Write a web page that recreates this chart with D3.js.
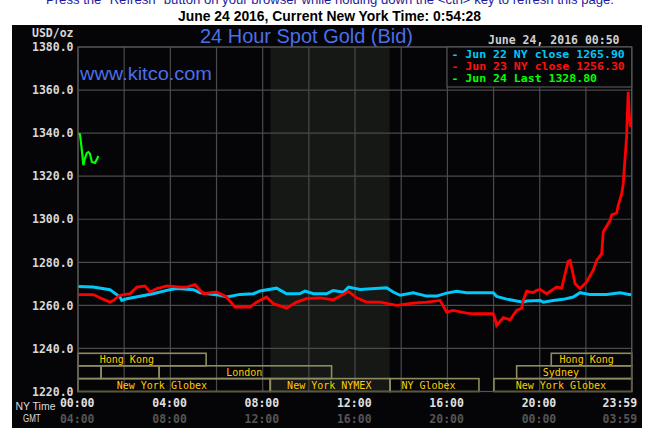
<!DOCTYPE html>
<html><head><meta charset="utf-8">
<script src="https://cdn.jsdelivr.net/npm/d3@7"></script>
<style>body{margin:0;background:#fff}svg{display:block}</style>
</head><body><svg id="c" width="649" height="428"></svg>
<script>
// ---- data (minutes after NY midnight, USD/oz) ----
const jun22Min = [0,39,83,109,114,127,161,195,239,257,300,317,369,387,421,456,473,516,542,560,577,590,612,646,663,690,703,733,802,819,837,871,906,932,958,984,1010,1079,1088,1114,1140,1157,1166,1201,1209,1235,1261,1287,1305,1331,1374,1409,1435,1439];
const jun22Val = [1268.8,1268.5,1267.3,1263.9,1262.3,1263.1,1264.2,1265.4,1267.3,1267.8,1267.3,1265.9,1264.7,1263.9,1265.1,1265.4,1266.7,1268.0,1265.4,1265.4,1265.5,1266.6,1265.4,1265.4,1266.9,1266.1,1268.5,1267.4,1268.2,1266.2,1264.7,1265.9,1264.3,1264.3,1265.7,1266.5,1265.9,1265.9,1264.2,1262.9,1262.0,1261.5,1262.0,1262.3,1261.5,1262.3,1262.8,1263.9,1265.9,1265.0,1265.0,1265.9,1265.0,1265.2];
const jun23Min = [0,40,57,83,92,109,135,153,174,187,205,231,265,283,304,326,360,386,408,447,464,490,508,542,568,594,629,664,703,724,750,785,828,871,906,941,958,975,1010,1027,1079,1084,1088,1105,1123,1140,1153,1157,1166,1183,1192,1201,1218,1244,1257,1266,1274,1279,1292,1305,1322,1339,1348,1361,1365,1383,1387,1400,1404,1413,1417,1421,1426,1427,1430,1432,1435,1437];
const jun23Val = [1265.0,1265.0,1263.5,1261.5,1262.3,1264.7,1265.4,1268.5,1269.0,1266.2,1267.8,1269.0,1268.5,1268.5,1269.6,1265.4,1266.2,1263.9,1259.2,1259.2,1261.5,1263.9,1260.8,1258.7,1261.5,1263.1,1263.5,1262.6,1266.5,1263.5,1261.5,1261.5,1260.0,1261.0,1261.5,1262.3,1256.9,1257.7,1256.4,1256.1,1256.1,1253.8,1250.7,1254.3,1253.3,1257.7,1258.7,1262.3,1266.6,1265.9,1267.0,1267.4,1265.4,1268.5,1268.0,1274.7,1280.5,1280.9,1270.0,1267.8,1270.9,1276.3,1280.9,1284.0,1294.1,1299.5,1302.1,1302.9,1306.5,1311.9,1316.5,1326.6,1339.0,1345.2,1359.2,1349.9,1344.5,1342.9];
const jun24Min = [0,5,8,11,14,18,23,27,31,36,44,49,53];
const jun24Val = [1339.8,1339.5,1335.2,1330.5,1325.1,1328.2,1330.8,1331.2,1330.5,1326.6,1326.2,1327.8,1329.4];

const legendLabels = ["Jun 22 NY close 1265.90","Jun 23 NY close 1256.30","Jun 24 Last 1328.80"];
const yTicks = [1220,1240,1260,1280,1300,1320,1340,1360,1380];
const xTickMin = [0,240,480,720,960,1200,1439];
const nyLabels = ["00:00","04:00","08:00","12:00","16:00","20:00","23:59"];
const gmtLabels = ["04:00","08:00","12:00","16:00","20:00","00:00","03:59"];
// sessions: name, row (0 top), start min, end min, label centre min
const sessName  = ["Hong Kong","Hong Kong","","","London","Sydney","New York Globex","New York NYMEX","NY Globex","New York Globex"];
const sessRow   = [0,0,1,1,1,1,2,2,2,2];
const sessStart = [0,1230,0,60,211,1140,0,500,811,1081];
const sessEnd   = [333,1439,60,211,659,1439,499,811,1042,1439];
const sessLabel = [127,1322,0,0,432,1255,218,653,911,1255];
const nymexShade = [500,810];

const svg = d3.select("#c");
const L=78, R=631.7, T=47, B=391.5;
const x = d3.scaleLinear().domain([0,1439]).range([L,R]);
const y = d3.scaleLinear().domain([1220,1380]).range([B,T]);
const mono = "'DejaVu Sans Mono', monospace";

// page texts
svg.append("text").attr("x",46).attr("y",4).attr("textLength",568).attr("lengthAdjust","spacingAndGlyphs")
  .style("font","13px 'Liberation Sans', Arial, sans-serif").attr("fill","#1c1ca0")
  .text('Press the "Refresh" button on your browser while holding down the <ctrl> key to refresh this page.');
svg.append("text").attr("x",178).attr("y",21).attr("textLength",303).attr("lengthAdjust","spacingAndGlyphs")
  .style("font","bold 14px 'Liberation Sans', Arial, sans-serif").attr("fill","#000")
  .text("June 24 2016, Current New York Time: 0:54:28");

// panel
svg.append("rect").attr("x",12).attr("y",25).attr("width",630).attr("height",403).attr("fill","#050407");
svg.append("rect").attr("x",x(nymexShade[0])).attr("y",T).attr("width",x(nymexShade[1])-x(nymexShade[0])).attr("height",B-T).attr("fill","#151815");

// grid
const grid = svg.append("g").attr("stroke","#4a4a4a").attr("stroke-width",1.2);
d3.range(0,1441,120).forEach(m=>{ const xx = m===1440? R : x(m); grid.append("line").attr("x1",xx).attr("x2",xx).attr("y1",T).attr("y2",B); });
yTicks.forEach(v=>grid.append("line").attr("x1",L).attr("x2",R).attr("y1",y(v)).attr("y2",y(v)));

// y labels
svg.append("g").selectAll("text").data(yTicks).join("text")
  .attr("x",73.5).attr("y",d=>y(d)+4.2).attr("text-anchor","end")
  .style("font",`bold 11.5px ${mono}`).attr("fill","#d8d8d8").text(d=>d.toFixed(1));
svg.append("text").attr("x",32).attr("y",37).style("font",`bold 11.5px ${mono}`).attr("fill","#d8d8d8").text("USD/oz");

// title
svg.append("text").attr("x",200).attr("y",43).attr("textLength",213).attr("lengthAdjust","spacingAndGlyphs")
  .style("font","20px 'Liberation Sans', Arial, sans-serif").attr("fill","#4a6fe6").text("24 Hour Spot Gold (Bid)");
svg.append("text").attr("x",488).attr("y",44).style("font",`bold 11.5px ${mono}`).attr("fill","#cfcfcf").text("June 24, 2016 00:50");

// sessions
const sess = svg.append("g");
const rowTop = [353.3,365.8,378.6], rowH = [12.5,12.8,12.9];
sessName.forEach((n,i)=>{
  const r = sessRow[i];
  sess.append("rect").attr("x",x(sessStart[i])).attr("y",rowTop[r]).attr("width",x(sessEnd[i])-x(sessStart[i])).attr("height",rowH[r])
    .attr("fill","none").attr("stroke","#8e8c5e").attr("stroke-width",1.6);
  if(n) sess.append("text").attr("x",x(sessLabel[i])).attr("y",rowTop[r]+rowH[r]-2.6).attr("text-anchor","middle")
    .style("font",`10px ${mono}`).attr("fill","#ffcc00").text(n);
});

// lines
const clip = svg.append("clipPath").attr("id","pc").append("rect").attr("x",L).attr("y",T).attr("width",R-L+1).attr("height",B-T);
const line = d3.line().x(d=>x(d[0])).y(d=>y(d[1]));
const lines = svg.append("g").attr("clip-path","url(#pc)").attr("fill","none").attr("stroke-linejoin","miter");
lines.append("path").datum(d3.zip(jun22Min,jun22Val)).attr("d",line).attr("stroke","#00c8f8").attr("stroke-width",3);
lines.append("path").datum(d3.zip(jun23Min,jun23Val)).attr("d",line).attr("stroke","#ff0000").attr("stroke-width",2.8);
lines.append("path").datum(d3.zip(jun24Min,jun24Val)).attr("d",line).attr("stroke","#00ff00").attr("stroke-width",2.2);

// plot border
svg.append("rect").attr("x",L).attr("y",T).attr("width",R-L).attr("height",B-T).attr("fill","none").attr("stroke","#555").attr("stroke-width",1.2);

// legend
svg.append("rect").attr("x",447).attr("y",T).attr("width",R-447).attr("height",40).attr("fill","#050407").attr("stroke","#555").attr("stroke-width",1.2);
const legColors = ["#00c8f8","#ff1010","#00ff00"];
legendLabels.forEach((t,i)=>{
  const s = "- "+t;
  svg.append("text").attr("x",451.5).attr("y",57.6+i*12.4).attr("textLength",s.length*6.93).attr("lengthAdjust","spacingAndGlyphs")
    .style("font",`bold 10.5px ${mono}`).attr("fill",legColors[i]).text(s);
});

svg.append("text").attr("x",80).attr("y",80).attr("textLength",132).attr("lengthAdjust","spacingAndGlyphs")
  .style("font","18px 'Liberation Sans', Arial, sans-serif").attr("fill","#4a6fe6").text("www.kitco.com");

// x axes
const axNY = d3.axisBottom(x).tickValues(xTickMin).tickSize(0).tickFormat((d,i)=>nyLabels[i]);
const axG = d3.axisBottom(x).tickValues(xTickMin).tickSize(0).tickFormat((d,i)=>gmtLabels[i]);
function styleAx(g,col){
  g.select(".domain").remove();
  g.selectAll("text").style("font",`bold 11.5px ${mono}`).attr("fill",col).attr("dy",0).attr("y",0).attr("dx",-1.3);
  g.selectAll(".tick:last-of-type text").attr("text-anchor","end").attr("dx",5);
}
svg.append("g").attr("transform","translate(0,407)").call(axNY).call(g=>styleAx(g,"#e0e0e0"));
svg.append("g").attr("transform","translate(0,423)").call(axG).call(g=>styleAx(g,"#555555"));
svg.append("text").attr("x",15.5).attr("y",410).attr("textLength",40).attr("lengthAdjust","spacingAndGlyphs")
  .style("font","11px 'Liberation Sans', Arial, sans-serif").attr("fill","#dcdcdc").text("NY Time");
svg.append("text").attr("x",23).attr("y",421.7).attr("textLength",17.7).attr("lengthAdjust","spacingAndGlyphs")
  .style("font","11px 'Liberation Sans', Arial, sans-serif").attr("fill","#dcdcdc").text("GMT");
</script></body></html>
